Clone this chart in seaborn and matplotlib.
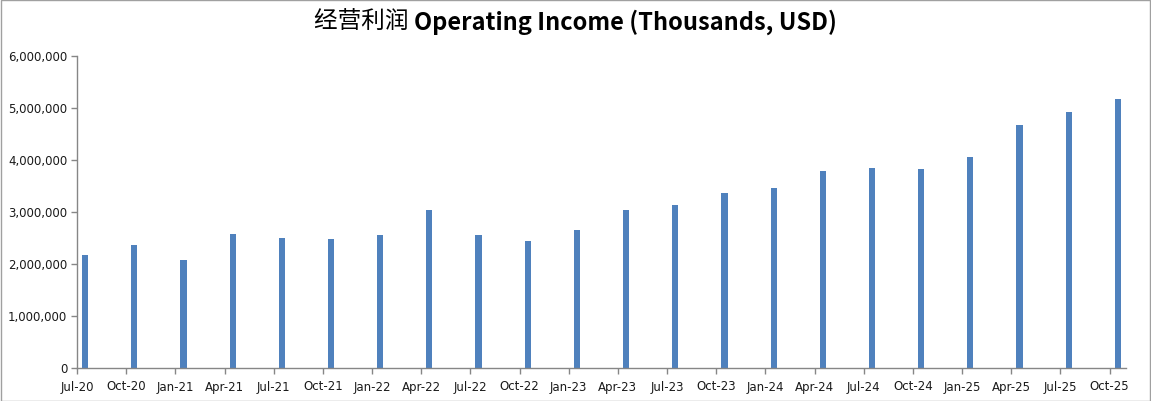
import matplotlib
matplotlib.use("Agg")
import matplotlib.pyplot as plt
import matplotlib.ticker as mticker
from matplotlib.patches import Rectangle
import seaborn as sns
import pandas as pd

quarters = ["Jul-20", "Oct-20", "Jan-21", "Apr-21", "Jul-21", "Oct-21", "Jan-22", "Apr-22",
            "Jul-22", "Oct-22", "Jan-23", "Apr-23", "Jul-23", "Oct-23", "Jan-24", "Apr-24",
            "Jul-24", "Oct-24", "Jan-25", "Apr-25", "Jul-25", "Oct-25"]
operating_income = [2170000, 2370000, 2080000, 2580000, 2500000, 2480000, 2560000, 3040000,
                    2560000, 2440000, 2660000, 3040000, 3140000, 3370000, 3460000, 3790000,
                    3840000, 3820000, 4050000, 4670000, 4930000, 5180000]
yticks = [0, 1000000, 2000000, 3000000, 4000000, 5000000, 6000000]

sns.set_theme(style="white")
plt.rcParams['font.family'] = ['DejaVu Sans']

months_per_q = 3
pos = [i * months_per_q + 0.5 for i in range(len(quarters))]
df = pd.DataFrame({"pos": pos, "value": operating_income})

fig = plt.figure(figsize=(11.51, 4.01), dpi=100)
ax = fig.add_axes([77/1151, 33/401, (1126-77)/1151, (368-56)/401])

sns.barplot(data=df, x="pos", y="value", native_scale=True, color="#4F81BD",
            width=0.125, saturation=1, linewidth=0, ax=ax)

ax.set_xlim(0, len(quarters) * months_per_q - 2)
ax.set_ylim(0, 6000000)
ax.set_xticks([i * months_per_q for i in range(len(quarters))])
ax.set_xticklabels(quarters)
ax.set_yticks(yticks)
ax.yaxis.set_major_formatter(mticker.FuncFormatter(lambda v, p: f"{int(v):,}"))
ax.set_xlabel("")
ax.set_ylabel("")

for s in ["top", "right"]:
    ax.spines[s].set_visible(False)
for s in ["left", "bottom"]:
    ax.spines[s].set_color("#868686")
    ax.spines[s].set_linewidth(1)
ax.tick_params(axis="both", which="both", direction="out", length=4, width=1,
               color="#868686", labelsize=8.5, labelcolor="#1a1a1a", pad=3, bottom=True, left=True)
ax.tick_params(axis="x", pad=5)
ax.grid(False)

renderer = fig.canvas.get_renderer()
t_cn = fig.text(0, 0.945, "经营利润 ", ha="left", va="center", fontsize=17,
                family=["Noto Sans CJK SC", "DejaVu Sans"], color="#000000")
t_en = fig.text(0, 0.945, "Operating Income (Thousands, USD)", ha="left", va="center",
                fontsize=17, fontweight="bold", family=["Noto Sans CJK SC", "DejaVu Sans"],
                color="#000000")
w_cn = t_cn.get_window_extent(renderer).width / fig.bbox.width
w_en = t_en.get_window_extent(renderer).width / fig.bbox.width
x0 = 0.5 - (w_cn + w_en) / 2
t_cn.set_x(x0)
t_en.set_x(x0 + w_cn)

fig.patches.append(Rectangle((0.0005, 0.0005), 0.999, 0.999, transform=fig.transFigure,
                             fill=False, edgecolor="#A0A0A0", linewidth=1))

fig.savefig("out.png", dpi=100)
